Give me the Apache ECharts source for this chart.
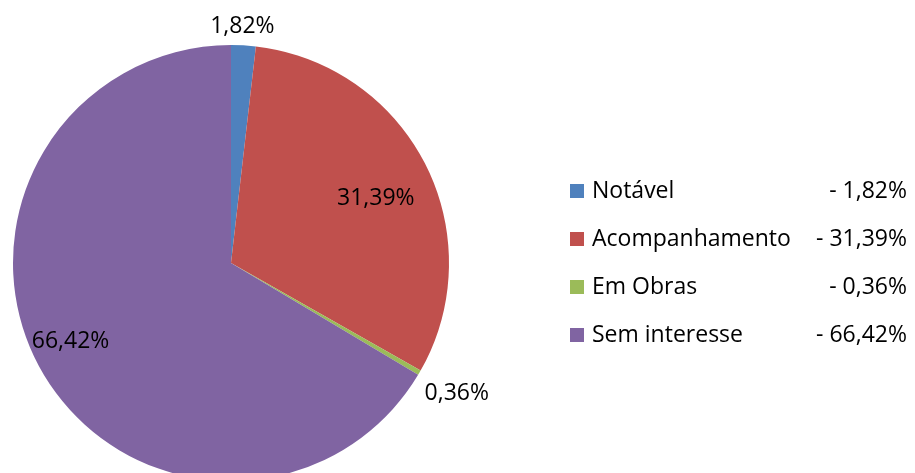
<!DOCTYPE html>
<html>
<head>
<meta charset="utf-8">
<script src="https://cdn.jsdelivr.net/npm/echarts@6/dist/echarts.min.js"></script>
<style>
  html, body { margin: 0; padding: 0; background: #fff; }
  #chart { width: 915px; height: 473px; }
</style>
</head>
<body>
<div id="chart"></div>
<script>
var categories = ['Notável', 'Acompanhamento', 'Em Obras', 'Sem interesse'];
var values = [1.82, 31.39, 0.36, 66.42];
var colors = ['#4F81BD', '#C0504D', '#9BBB59', '#8064A2'];

// label nudges from the default "inside" spot
var labelShift = [[5, -125], [45, -14], [129, 74], [-63, 23]];

function pct(v) {
	return v.toFixed(2).replace('.', ',') + '%';
}

var pieData = [];
for (var i = 0; i < categories.length; i++) {
	pieData.push({ name: categories[i], value: values[i], itemStyle: { color: colors[i] } });
}

var chart = echarts.init(document.getElementById('chart'));
chart.setOption({
	animation: false,
	legend: {
		orient: 'vertical',
		left: 570,
		top: 177,
		padding: 0,
		itemWidth: 14,
		itemHeight: 14,
		itemGap: 20,
		icon: 'rect',
		selectedMode: false,
		formatter: function (name) {
			var idx = categories.indexOf(name);
			return '{n|' + name + '}{v|- ' + pct(values[idx]) + '}';
		},
		textStyle: {
			fontFamily: 'Open Sans',
			fontSize: 23,
			color: '#000',
			lineHeight: 28,
			rich: {
				n: { fontFamily: 'Open Sans', fontSize: 23, color: '#000', width: 212, padding: [0, 0, 0, 3] },
				v: { fontFamily: 'Open Sans', fontSize: 23, color: '#000', width: 103, align: 'right' }
			}
		}
	},
	series: [{
		type: 'pie',
		center: [231, 263],
		radius: 218,
		startAngle: 90,
		clockwise: true,
		avoidLabelOverlap: false,
		silent: true,
		label: {
			show: true,
			position: 'inside',
			fontFamily: 'Open Sans',
			fontSize: 23,
			color: '#000',
			formatter: function (p) { return pct(p.value); }
		},
		labelLine: { show: false },
		labelLayout: function (p) {
			var s = labelShift[p.dataIndex];
			return { dx: s[0], dy: s[1] };
		},
		data: pieData
	}]
});
</script>
</body>
</html>
